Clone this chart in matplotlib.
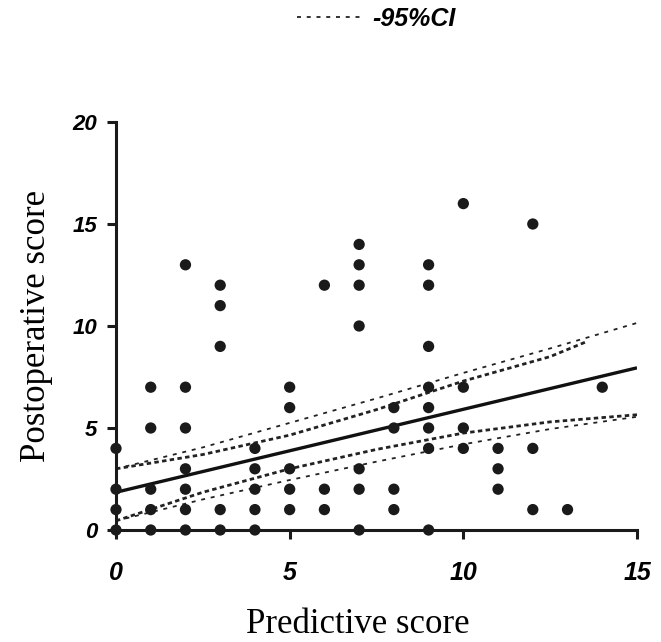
import matplotlib
matplotlib.use("Agg")
import matplotlib.pyplot as plt
import numpy as np

# ---- data ----
pred_x = [0, 0, 0, 0,
          1, 1, 1, 1, 1,
          2, 2, 2, 2, 2, 2, 2,
          3, 3, 3, 3, 3,
          4, 4, 4, 4, 4,
          5, 5, 5, 5, 5,
          6, 6, 6,
          7, 7, 7, 7, 7, 7, 7,
          8, 8, 8, 8,
          9, 9, 9, 9, 9, 9, 9, 9,
          10, 10, 10, 10,
          11, 11, 11,
          12, 12, 12,
          13,
          14]
post_y = [0, 1, 2, 4,
          0, 1, 2, 5, 7,
          0, 1, 2, 3, 5, 7, 13,
          0, 1, 9, 11, 12,
          0, 1, 2, 3, 4,
          1, 2, 3, 6, 7,
          1, 2, 12,
          0, 2, 3, 10, 12, 13, 14,
          1, 2, 5, 6,
          0, 4, 5, 6, 7, 9, 12, 13,
          4, 5, 7, 16,
          2, 3, 4,
          1, 4, 15,
          1,
          7]

reg_x = [0, 15]
reg_y = [1.85, 7.95]

band_x = [0, 2.5, 5, 7.5, 10, 12.5, 15]
upper_thin = [3.0, 4.05, 5.25, 6.45, 7.7, 8.9, 10.15]
lower_thin = [0.45, 1.5, 2.45, 3.35, 4.2, 4.95, 5.55]
upper_heavy_x = [0, 2.5, 5, 7.5, 10, 12.5, 13.5]
upper_heavy = [3.0, 3.7, 4.65, 5.9, 7.3, 8.5, 9.2]
lower_heavy = [0.45, 1.85, 3.0, 3.95, 4.75, 5.3, 5.65]

x_ticks = [0, 5, 10, 15]
y_ticks = [0, 5, 10, 15, 20]
legend_label = "-95%CI"

# ---- figure ----
fig = plt.figure(figsize=(6.61, 6.42), dpi=100)
ax = fig.add_axes([116/661, 1 - 530/642, (637-116)/661, (530-122)/642])

xtick_font = dict(family="Liberation Sans", weight="bold", style="italic", size=18)
ytick_font = dict(family="Liberation Sans", weight="bold", style="italic", size=16)
lab_font = dict(family="Liberation Serif", size=25)

ax.plot(band_x, upper_thin, color="#222222", lw=1.3, dashes=(2.2, 3.2))
thin_low, = ax.plot(band_x, lower_thin, color="#222222", lw=1.3, dashes=(2.2, 3.2))
ax.plot(upper_heavy_x, upper_heavy, color="#222222", lw=2.0, dashes=(1.6, 1.2))
ax.plot(band_x, lower_heavy, color="#222222", lw=2.0, dashes=(1.6, 1.2))
ax.plot(reg_x, reg_y, color="#111111", lw=2.4, solid_capstyle="butt")

ax.scatter(pred_x, post_y, s=66, color="#1a1a1a", zorder=5, clip_on=False,
           edgecolors="none")

ax.set_xlim(0, 15)
ax.set_ylim(0, 20)
ax.set_xticks(x_ticks)
ax.set_yticks(y_ticks)
ax.set_xticklabels([str(t) for t in x_ticks], fontdict=xtick_font)
ax.set_yticklabels([str(t) for t in y_ticks], fontdict=ytick_font)

for s in ["top", "right"]:
    ax.spines[s].set_visible(False)
for s in ["left", "bottom"]:
    ax.spines[s].set_linewidth(2.2)
    ax.spines[s].set_color("#1a1a1a")
ax.tick_params(axis="both", direction="out", length=6.5, width=2.2, color="#1a1a1a")
ax.tick_params(axis="x", pad=15.5)
ax.tick_params(axis="y", pad=7)

ax.set_xlabel("Predictive score", fontdict=lab_font, labelpad=17)
ax.xaxis.label.set_x((358 - 116) / 521)
ax.set_ylabel("Postoperative score", fontdict=lab_font, labelpad=14)

leg = fig.legend([thin_low], [legend_label], loc="center left",
                 bbox_to_anchor=(297/661, 1 - 19/642), frameon=False,
                 borderpad=0, borderaxespad=0, handlelength=2.5,
                 handletextpad=0.5,
                 prop=dict(family="Liberation Sans", weight="bold",
                           style="italic", size=18))

fig.savefig("out.png", dpi=100)
